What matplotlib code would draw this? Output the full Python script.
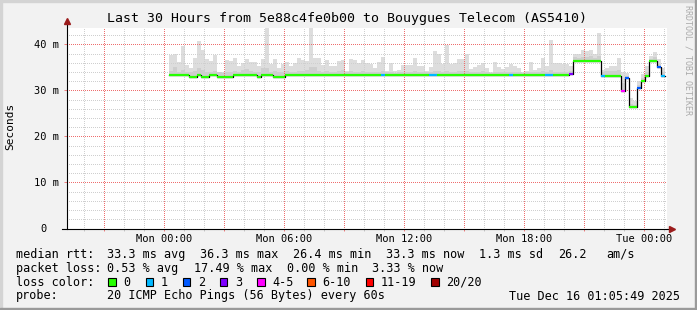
import numpy as np
import matplotlib.pyplot as plt
from matplotlib.patches import Rectangle

plt.rcParams['font.family'] = 'DejaVu Sans Mono'

W, H = 697, 310

# rrd rows: 12 minute steps, hours counted from Mon 00:00
start_hour = 0.235
step_hour = 0.2

median_ms = [
    33.3, 33.3, 33.3, 33.3, 33.3, 32.9, 32.9, 33.3, 32.9, 32.9,
    33.3, 33.3, 32.9, 32.9, 32.9, 32.9, 33.3, 33.3, 33.3, 33.3,
    33.3, 33.3, 32.9, 33.3, 33.3, 33.3, 32.9, 32.9, 32.9, 33.3,
    33.3, 33.3, 33.3, 33.3, 33.3, 33.3, 33.3, 33.3, 33.3, 33.3,
    33.3, 33.3, 33.3, 33.3, 33.3, 33.3, 33.3, 33.3, 33.3, 33.3,
    33.3, 33.3, 33.3, 33.3, 33.3, 33.3, 33.3, 33.3, 33.3, 33.3,
    33.3, 33.3, 33.3, 33.3, 33.3, 33.3, 33.3, 33.3, 33.3, 33.3,
    33.3, 33.3, 33.3, 33.3, 33.3, 33.3, 33.3, 33.3, 33.3, 33.3,
    33.3, 33.3, 33.3, 33.3, 33.3, 33.3, 33.3, 33.3, 33.3, 33.3,
    33.3, 33.3, 33.3, 33.3, 33.3, 33.3, 33.3, 33.3, 33.3, 33.3,
    33.5, 36.3, 36.3, 36.3, 36.3, 36.3, 36.3, 36.3, 33.2, 33.2,
    33.2, 33.2, 33.2, 29.9, 32.6, 26.4, 26.4, 30.6, 32.0, 33.2,
    36.3, 36.3, 35.1, 33.2,
]

max_ms = [
    37.7, 38.0, 36.2, 39.7, 35.6, 34.9, 37.1, 40.7, 38.8, 36.8,
    36.4, 37.7, 34.0, 34.0, 36.7, 36.3, 37.1, 35.4, 36.0, 36.8,
    36.1, 36.2, 35.4, 36.8, 43.6, 35.7, 36.8, 34.9, 35.7, 36.1,
    35.4, 35.9, 37.1, 36.7, 36.4, 43.6, 37.1, 37.1, 35.5, 36.7,
    35.4, 35.4, 36.4, 36.7, 34.2, 36.9, 36.7, 35.9, 36.7, 35.9,
    35.8, 34.9, 36.1, 37.2, 34.2, 35.9, 34.2, 34.5, 35.5, 35.5,
    35.5, 37.1, 35.4, 35.2, 34.2, 35.0, 38.6, 37.9, 35.8, 39.8,
    35.8, 35.9, 36.8, 36.8, 37.9, 34.7, 35.0, 35.5, 35.9, 34.8,
    34.0, 36.1, 35.0, 34.7, 35.0, 35.8, 35.4, 34.8, 34.0, 34.2,
    36.1, 34.5, 34.8, 37.1, 35.2, 41.0, 35.9, 35.9, 35.8, 35.7,
    35.4, 38.0, 38.0, 38.8, 38.6, 38.8, 38.0, 42.5, 34.5, 34.9,
    35.2, 35.4, 37.1, 34.0, 33.8, 28.4, 27.8, 32.0, 33.5, 35.2,
    37.4, 38.3, 36.8, 34.9,
]

# denser part of the smoke
core_ms = [
    34.2, 35.0, 34.0, 34.4, 34.0, 33.9, 34.2, 34.8, 34.5, 34.0,
    34.1, 34.3, 33.9, 33.8, 34.0, 34.1, 34.3, 34.0, 34.4, 34.6,
    34.2, 34.1, 34.0, 34.8, 34.9, 34.0, 34.2, 33.9, 34.0, 34.2,
    34.0, 34.1, 34.3, 34.2, 34.4, 35.1, 35.0, 34.3, 34.0, 34.2,
    34.0, 34.1, 34.2, 34.4, 33.9, 34.2, 34.1, 34.0, 34.2, 34.0,
    34.1, 33.9, 34.0, 34.3, 33.9, 34.1, 33.8, 34.0, 34.0, 34.1,
    34.0, 34.2, 34.0, 34.1, 33.9, 34.0, 34.3, 34.2, 34.0, 34.3,
    34.1, 34.0, 34.2, 34.2, 34.3, 34.0, 34.0, 34.1, 34.2, 33.9,
    33.8, 34.1, 34.0, 33.9, 34.0, 34.1, 34.1, 34.0, 33.8, 33.9,
    34.1, 34.0, 34.0, 34.2, 34.1, 34.4, 34.0, 34.1, 34.0, 34.0,
    34.2, 37.2, 37.0, 37.3, 37.2, 37.4, 37.0, 37.5, 34.0, 34.2,
    34.3, 34.3, 34.5, 31.5, 33.2, 27.0, 26.9, 31.2, 32.6, 33.9,
    36.9, 37.2, 35.8, 34.0,
]

# index into loss_labels
loss_class = [
    0, 0, 0, 0, 0, 0, 0, 0, 0, 0,
    0, 0, 0, 0, 0, 0, 0, 0, 0, 0,
    0, 0, 0, 0, 0, 0, 0, 0, 0, 0,
    0, 0, 0, 0, 0, 0, 0, 0, 0, 0,
    0, 0, 0, 0, 0, 0, 0, 0, 0, 0,
    0, 0, 0, 1, 0, 0, 0, 0, 0, 0,
    0, 0, 0, 0, 0, 1, 1, 0, 0, 0,
    0, 0, 0, 0, 0, 0, 0, 0, 0, 0,
    0, 0, 0, 0, 0, 1, 0, 0, 0, 0,
    0, 0, 0, 0, 1, 1, 0, 0, 0, 0,
    3, 0, 0, 0, 0, 0, 0, 0, 1, 0,
    0, 0, 0, 4, 2, 0, 0, 2, 0, 0,
    0, 0, 2, 1,
]

loss_labels = ['0', '1', '2', '3', '4-5', '6-10', '11-19', '20/20']
loss_colors = ['#26ff00', '#00b8ff', '#0059ff', '#7e00ff',
               '#ff00ff', '#ff5500', '#ff0000', '#a00000']

xtick_hours = [-3, 0, 3, 6, 9, 12, 15, 18, 21, 24]
xtick_labels = ['', 'Mon 00:00', '', 'Mon 06:00', '', 'Mon 12:00', '',
                'Mon 18:00', '', 'Tue 00:00']
ytick_vals = [0, 10, 20, 30, 40]
ytick_labels = ['', '10 m', '20 m', '30 m', '40 m']

median = np.array(median_ms)
n = len(median)
edges = start_hour + step_hour * np.arange(n + 1)

fig = plt.figure(figsize=(W / 100, H / 100), dpi=100, facecolor='#f2f2f2')
ax = fig.add_axes([66.5 / W, 1 - 228.5 / H, (667 - 66.5) / W, (228.5 - 27.8) / H])
ax.set_facecolor('white')
ax.set_xlim(-4.89, 25.135)
ax.set_ylim(0, 43.6)

# smoke
ax.stairs(max_ms, edges, baseline=median, fill=True, color='#dddddd', lw=0, zorder=1)
ax.stairs(core_ms, edges, baseline=median, fill=True, color='#cecece', lw=0, zorder=1.2)

# median line, coloured by loss
ax.step(edges, np.append(median, median[-1]), where='post', color='black', lw=0.9, zorder=3)
ax.hlines(median, edges[:-1], edges[1:],
          colors=[loss_colors[c] for c in loss_class], lw=1.6, zorder=4)

# grid, 1px on / 1px off; minor lines only between the major ones
ax.set_xticks(xtick_hours)
ax.set_xticklabels(xtick_labels)
ax.set_xticks([h for h in range(-4, 26) if h % 3], minor=True)
ax.set_yticks(ytick_vals)
ax.set_yticklabels(ytick_labels)
ax.set_yticks([v for v in range(0, 44, 2) if v % 10], minor=True)
ax.grid(which='major', color='#ee6e6e', linestyle=(0.5, (1, 1)), lw=0.72)
ax.grid(which='minor', color='#cfcfcf', linestyle=(0.5, (1, 1)), lw=0.72)
ax.tick_params(axis='x', which='major', length=1.5, color='#f08080', width=0.72,
               pad=2.2, labelsize=7.5)
ax.tick_params(axis='x', which='minor', length=1.5, color='#c8c8c8', width=0.72)
ax.tick_params(axis='y', which='major', length=2.2, color='#f08080', width=0.72,
               pad=3, labelsize=7.5)
ax.tick_params(axis='y', which='minor', length=0)
for s in ax.spines.values():
    s.set_visible(False)

# axes with arrows
ax.plot([0, 0], [0, 1.03], transform=ax.transAxes, color='black', lw=0.8,
        clip_on=False, zorder=5)
ax.plot([-0.0075, 1.006], [0, 0], transform=ax.transAxes, color='black', lw=0.8,
        clip_on=False, zorder=5)
ax.plot([0], [1.032], transform=ax.transAxes, marker='^', ms=4, color='#9b1c1c',
        clip_on=False, zorder=6)
ax.plot([1.008], [0], transform=ax.transAxes, marker='>', ms=4, color='#9b1c1c',
        clip_on=False, zorder=6)


def fx(px):
    return px / W


def fy(py):
    return 1 - py / H


fig.text(fx(47), fy(228.5), '0', ha='right', va='center', fontsize=7.5)
fig.text(fx(346.7), fy(18.5), 'Last 30 Hours from 5e88c4fe0b00 to Bouygues Telecom (AS5410)',
         ha='center', va='center', fontsize=9.5)
fig.text(fx(10), fy(126), 'Seconds', rotation=90, ha='center', va='center', fontsize=8)
fig.text(fx(688), fy(60), 'RRDTOOL / TOBI OETIKER', rotation=270, ha='center',
         va='center', fontsize=6, color='#aaaaaa')

fs = 8.5
line1 = [(16, 'median rtt:'), (107.3, '33.3 ms avg'), (200, '36.3 ms max'),
         (293.3, '26.4 ms min'), (386, '33.3 ms now'), (479.3, '1.3 ms sd'),
         (558.3, '26.2'), (606.7, 'am/s')]
line2 = [(16, 'packet loss:'), (107.3, '0.53 % avg'), (194.5, '17.49 % max'),
         (287.3, '0.00 % min'), (371.7, '3.33 % now')]
for x, s in line1:
    fig.text(fx(x), fy(254.3), s, ha='left', va='center', fontsize=fs)
for x, s in line2:
    fig.text(fx(x), fy(268.3), s, ha='left', va='center', fontsize=fs)

fig.text(fx(16), fy(282.3), 'loss color:', ha='left', va='center', fontsize=fs)
box_x = [108.3, 145.7, 182.7, 220, 257.3, 307.3, 365.7, 431]
for bx, lab, col in zip(box_x, loss_labels, loss_colors):
    fig.add_artist(Rectangle((fx(bx), fy(286)), 7.5 / W, 8 / H, transform=fig.transFigure,
                             facecolor=col, edgecolor='black', lw=0.8))
    fig.text(fx(bx + 15), fy(282.3), lab, ha='left', va='center', fontsize=fs)

fig.text(fx(16), fy(296), 'probe:', ha='left', va='center', fontsize=fs)
fig.text(fx(107.3), fy(296), '20 ICMP Echo Pings (56 Bytes) every 60s',
         ha='left', va='center', fontsize=fs)
fig.text(fx(680), fy(296), 'Tue Dec 16 01:05:49 2025', ha='right', va='center', fontsize=fs)

# frame shading
fig.add_artist(Rectangle((0, 1 - 2 / H), 1, 2 / H, transform=fig.transFigure, color='#d4d4d4'))
fig.add_artist(Rectangle((0, 0), 2 / W, 1, transform=fig.transFigure, color='#d4d4d4'))
fig.add_artist(Rectangle((0, 0), 1, 2 / H, transform=fig.transFigure, color='#9a9a9a'))
fig.add_artist(Rectangle((1 - 2 / W, 0), 2 / W, 1, transform=fig.transFigure, color='#9a9a9a'))

fig.savefig('out.png', dpi=100, facecolor=fig.get_facecolor())
